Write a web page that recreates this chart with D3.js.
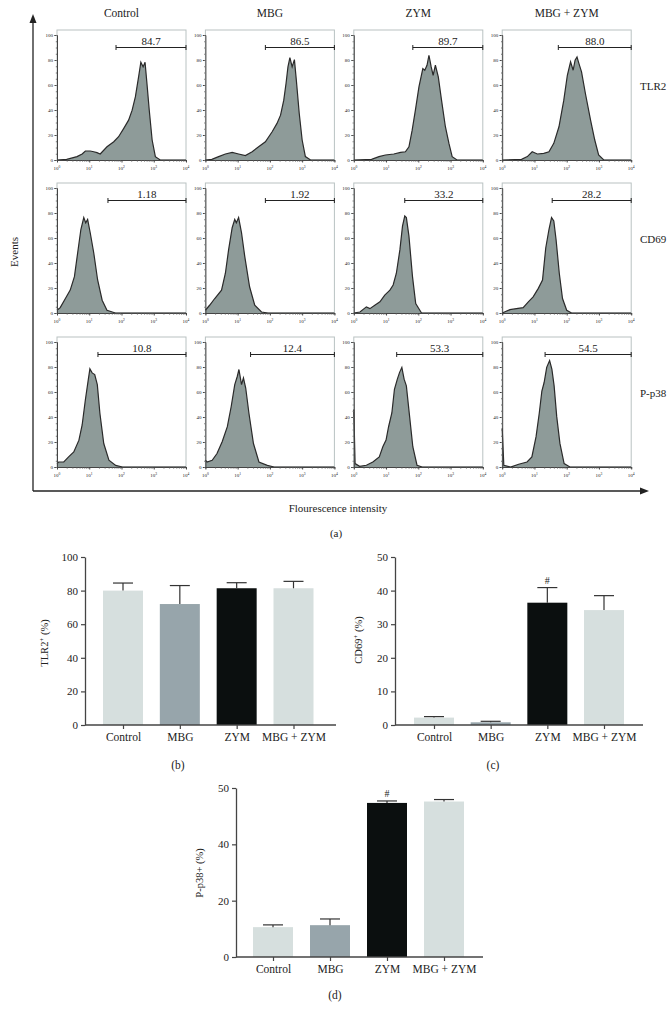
<!DOCTYPE html>
<html><head><meta charset="utf-8">
<script src="https://cdn.jsdelivr.net/npm/d3@7"></script>
<style>body{margin:0;background:#fff} svg{display:block} text{font-family:"Liberation Serif","DejaVu Serif",serif;fill:#222}</style>
</head><body><svg id="c" width="672" height="1021"></svg>
<script>
// ---------- DATA ----------
const groups = ["Control", "MBG", "ZYM", "MBG + ZYM"];
const markers = ["TLR2", "CD69", "P-p38"];
const gateValues = [["84.7","86.5","89.7","88.0"],["1.18","1.92","33.2","28.2"],["10.8","12.4","53.3","54.5"]];
const gateStarts = [[1.83,1.86,1.83,1.74],[1.58,1.86,1.58,1.55],[1.27,1.40,1.33,1.33]]; // log10 intensity
const histYTicks = [0,20,40,60,80,100];
const histXTicks = [0,1,2,3,4]; // exponents

// histograms: [log10 intensity, % of max events]
const tlr2Control = [[0,0],[0.3,0.5],[0.62,2.7],[0.78,4.8],[0.88,7.2],[1.03,7.2],[1.14,6.6],[1.24,5.9],[1.34,4.8],[1.55,10.6],[1.76,14.6],[1.91,18.6],[2.07,25.3],[2.22,31.9],[2.33,39.9],[2.43,50.5],[2.53,66.5],[2.60,78.2],[2.67,74.5],[2.73,78.2],[2.79,61],[2.86,40],[2.95,16],[3.05,2.7],[3.2,0],[4,0]];
const tlr2MBG = [[0,0],[0.2,0.5],[0.41,2.7],[0.62,4.8],[0.83,6.1],[1.03,4.8],[1.24,3.5],[1.45,6.6],[1.65,10.6],[1.86,14.6],[2.07,22.6],[2.22,29.3],[2.33,35.9],[2.43,47.9],[2.50,61.2],[2.56,74.5],[2.62,81.9],[2.69,74.5],[2.76,80.3],[2.82,63.8],[2.91,37.2],[3.0,16],[3.10,2.7],[3.26,0],[4,0]];
const tlr2ZYM = [[0,0],[0.55,0.5],[0.78,2.7],[0.98,4.0],[1.24,4.8],[1.45,6.1],[1.60,6.6],[1.71,10.6],[1.81,23.9],[1.91,39.9],[2.02,58.5],[2.14,73.1],[2.20,71.8],[2.27,75.8],[2.33,83.8],[2.40,74.5],[2.46,67.8],[2.53,75.8],[2.62,66.5],[2.72,47.9],[2.84,26.6],[2.95,13.3],[3.05,2.7],[3.2,0],[4,0]];
const tlr2Both = [[0,0],[0.6,0.5],[0.78,2.7],[0.93,6.6],[1.09,4.8],[1.29,5.3],[1.45,6.6],[1.60,13.3],[1.76,26.6],[1.91,47.9],[2.02,67.8],[2.12,78.5],[2.20,71.8],[2.26,79.8],[2.32,82.4],[2.38,77.1],[2.46,70.5],[2.58,53.2],[2.74,31.9],[2.87,16],[2.99,4],[3.15,0],[4,0]];
const cd69Control = [[0,2.2],[0.10,4.3],[0.26,11.6],[0.41,18.3],[0.54,29.1],[0.64,48],[0.74,66.8],[0.83,76.3],[0.89,72.2],[0.95,74.9],[1.03,64.2],[1.14,48],[1.26,26.4],[1.40,10.2],[1.55,2.2],[1.81,0],[4,0]];
const cd69MBG = [[0,2.2],[0.13,6.2],[0.29,11.6],[0.50,18.3],[0.62,31.8],[0.72,50.7],[0.83,68.2],[0.91,74.9],[0.96,72.2],[1.03,76.3],[1.12,64.2],[1.22,45.3],[1.37,21],[1.53,6.2],[1.74,0.8],[1.94,0],[4,0]];
const cd69ZYM = [[0,0],[0.19,0.8],[0.39,4.9],[0.50,3.5],[0.65,6.2],[0.81,8.9],[0.96,14.3],[1.12,18.3],[1.22,22.4],[1.32,31.8],[1.43,50.7],[1.51,69.5],[1.58,77.6],[1.63,76.3],[1.71,61.5],[1.82,29.1],[1.92,7.5],[2.10,0],[4,0]];
const cd69Both = [[0,0],[0.24,2.7],[0.44,3.5],[0.65,4.3],[0.81,8.9],[0.96,12.9],[1.12,19.7],[1.25,26.4],[1.35,52],[1.45,66.8],[1.53,76.3],[1.60,73.6],[1.67,58.8],[1.77,31.8],[1.87,11.6],[2.0,2.2],[2.15,0],[4,0]];
const pp38Control = [[0,2.7],[0.05,4],[0.21,4],[0.36,8.1],[0.52,12.1],[0.68,21.5],[0.78,33.6],[0.88,53.8],[0.97,69.9],[1.02,78.5],[1.09,75.3],[1.17,73.9],[1.25,65.9],[1.33,43],[1.45,18.8],[1.61,5.4],[1.82,1.3],[2.03,0],[4,0]];
const pp38MBG = [[0,5.4],[0.05,4],[0.21,5.4],[0.36,10.8],[0.52,20.2],[0.68,32.3],[0.80,48.4],[0.91,65.9],[0.99,72.6],[1.04,78],[1.12,65.9],[1.18,71.2],[1.25,63.2],[1.35,43],[1.49,18.8],[1.66,4],[1.92,1.3],[2.13,0],[4,0]];
const pp38ZYM = [[0,46],[0.04,2.7],[0.18,0.5],[0.39,1.4],[0.59,4],[0.79,8.1],[0.90,16.2],[1.0,21.6],[1.08,32.4],[1.18,43.2],[1.26,62.2],[1.35,70.3],[1.42,75.7],[1.49,79.7],[1.56,70.3],[1.63,64.9],[1.73,40.5],[1.83,16.2],[1.96,1.4],[2.12,0],[4,0]];
const pp38Both = [[0,31],[0.05,1.4],[0.26,0],[0.51,2.2],[0.77,4],[0.92,8.1],[1.05,24.3],[1.15,43.2],[1.23,60.8],[1.30,67.6],[1.38,79.7],[1.47,85.1],[1.54,78.4],[1.61,64.9],[1.69,40.5],[1.79,18.9],[1.92,2.7],[2.10,0],[4,0]];
const histograms = [[tlr2Control,tlr2MBG,tlr2ZYM,tlr2Both],[cd69Control,cd69MBG,cd69ZYM,cd69Both],[pp38Control,pp38MBG,pp38ZYM,pp38Both]];

// bar charts
const tlr2Mean = [80, 72, 81.4, 81.4];
const tlr2Sem  = [4.5, 11, 3.3, 4.1];
const tlr2Ticks = [0,20,40,60,80,100];
const cd69Mean = [2.2, 0.8, 36.4, 34.2];
const cd69Sem  = [0.3, 0.3, 4.5, 4.3];
const cd69Ticks = [0,10,20,30,40,50];
const cd69Sig = ["","","#",""];
const pp38Mean = [10.6, 11.3, 54.7, 55.2];
const pp38Sem  = [0.8, 2.2, 0.7, 0.7];
const pp38Ticks = [0,20,40,60];
const pp38TickLabels = ["0","20","40","50"];
const pp38Sig = ["","","#",""];
const barColors = ["#d6dfde","#97a5ab","#0b0f0f","#d6dfde"];

// ---------- DRAW ----------
const svg = d3.select("#c");
const ink = "#222";

// big axes with arrows
svg.append("line").attr("x1",33).attr("y1",491).attr("x2",33).attr("y2",20).attr("stroke",ink).attr("stroke-width",1.3);
svg.append("line").attr("x1",33).attr("y1",491).attr("x2",642).attr("y2",491).attr("stroke",ink).attr("stroke-width",1.3);
svg.append("path").attr("d","M33,14 L29.5,23 L36.5,23 Z").attr("fill",ink);
svg.append("path").attr("d","M649,491 L640,487.5 L640,494.5 Z").attr("fill",ink);
svg.append("text").attr("transform","translate(18,252) rotate(-90)").attr("text-anchor","middle").attr("font-size",11).text("Events");
svg.append("text").attr("x",338).attr("y",512).attr("text-anchor","middle").attr("font-size",11).text("Flourescence intensity");
svg.append("text").attr("x",336).attr("y",537).attr("text-anchor","middle").attr("font-size",11).text("(a)");

const panelW = 129, panelH = 125;
const panelLeft = i => 57 + i*148.4;
const rowBase = [160, 313, 467];

groups.forEach((g,i)=>{
  svg.append("text").attr("x",panelLeft(i)+panelW/2).attr("y",17).attr("text-anchor","middle").attr("font-size",11.5).text(g);
});
markers.forEach((m,r)=>{
  svg.append("text").attr("x",640).attr("y",rowBase[r]-panelH+55).attr("font-size",11).text(m);
});

histograms.forEach((row,r)=>{
  row.forEach((data,c)=>{
    const x0 = panelLeft(c), y0 = rowBase[r];
    const x = d3.scaleLog().domain([1,1e4]).range([x0, x0+panelW]);
    const y = d3.scaleLinear().domain([0,100]).range([y0, y0-panelH]);
    const gp = svg.append("g");
    gp.append("rect").attr("x",x0).attr("y",y0-panelH-5).attr("width",panelW).attr("height",panelH+5)
      .attr("fill","none").attr("stroke","#b9c2c2").attr("stroke-width",1);
    const area = d3.area().x(d=>x(10**d[0])).y0(y0).y1(d=>y(d[1]));
    const line = d3.line().x(d=>x(10**d[0])).y(d=>y(d[1]));
    gp.append("path").datum(data).attr("d",area).attr("fill","#8e9b99");
    gp.append("path").datum(data).attr("d",line).attr("fill","none").attr("stroke","#2a2a2a").attr("stroke-width",1.2);
    const ya = d3.axisLeft(y).tickValues(histYTicks).tickSize(2.5).tickPadding(1.5);
    const yg = gp.append("g").attr("transform",`translate(${x0},0)`).call(ya);
    yg.selectAll("text").attr("font-size",5).attr("fill","#333").style("font-family","Liberation Serif,serif");
    yg.select(".domain").attr("stroke","#444");
    yg.selectAll(".tick line").attr("stroke","#444");
    const ym = d3.axisLeft(y).tickValues(d3.range(0,101,5)).tickSize(1.2).tickFormat("");
    const ymg = gp.append("g").attr("transform",`translate(${x0},0)`).call(ym);
    ymg.select(".domain").remove(); ymg.selectAll("line").attr("stroke","#777");
    const xm = d3.axisBottom(x).tickValues(d3.range(0,4).flatMap(e=>d3.range(2,10).map(k=>k*10**e))).tickSize(1.5).tickFormat("");
    const xmg = gp.append("g").attr("transform",`translate(0,${y0})`).call(xm);
    xmg.select(".domain").attr("stroke","#444"); xmg.selectAll("line").attr("stroke","#555");
    const xa = d3.axisBottom(x).tickValues(histXTicks.map(e=>10**e)).tickSize(2.5).tickFormat("");
    const xg = gp.append("g").attr("transform",`translate(0,${y0})`).call(xa);
    xg.select(".domain").remove(); xg.selectAll("line").attr("stroke","#444");
    histXTicks.forEach(e=>{
      const t = gp.append("text").attr("x",x(10**e)).attr("y",y0+10).attr("text-anchor","middle").attr("font-size",5).attr("fill","#333");
      t.append("tspan").text("10");
      t.append("tspan").attr("dy",-2).attr("font-size",3.6).text(e);
    });
    const gy = y(90);
    const gx1 = x(10**gateStarts[r][c]), gx2 = x(1e4);
    gp.append("line").attr("x1",gx1).attr("x2",gx2).attr("y1",gy).attr("y2",gy).attr("stroke","#222").attr("stroke-width",1.1);
    [gx1,gx2].forEach(v=>gp.append("line").attr("x1",v).attr("x2",v).attr("y1",gy-2.5).attr("y2",gy+2.5).attr("stroke","#222").attr("stroke-width",1));
    gp.append("text").attr("x",(gx1+gx2)/2).attr("y",gy-2.5).attr("text-anchor","middle").attr("font-size",11).text(gateValues[r][c]);
  });
});

// ---------- BAR CHARTS ----------
function barChart(cfg){
  const g = svg.append("g");
  const y = d3.scaleLinear().domain([0,cfg.max]).range([cfg.y0, cfg.yTop]);
  const x = d3.scalePoint().domain(groups).range(cfg.centers);
  const bw = 40;
  g.selectAll("rect.bar").data(cfg.mean).join("rect").attr("class","bar")
    .attr("x",(d,i)=>x(groups[i])-bw/2).attr("width",bw)
    .attr("y",d=>y(d)).attr("height",d=>cfg.y0-y(d)).attr("fill",(d,i)=>barColors[i]);
  cfg.mean.forEach((m,i)=>{
    const cx = x(groups[i]), top = y(m+cfg.sem[i]);
    g.append("line").attr("x1",cx).attr("x2",cx).attr("y1",y(m)).attr("y2",top).attr("stroke","#333").attr("stroke-width",1.2);
    g.append("line").attr("x1",cx-10).attr("x2",cx+10).attr("y1",top).attr("y2",top).attr("stroke","#333").attr("stroke-width",1.2);
    if(cfg.sig && cfg.sig[i]) g.append("text").attr("x",cx).attr("y",top-4).attr("text-anchor","middle").attr("font-size",10).text(cfg.sig[i]);
  });
  const ya = d3.axisLeft(y).tickValues(cfg.ticks).tickSize(4).tickPadding(3).tickSizeOuter(0);
  if(cfg.labels) ya.tickFormat((d,i)=>cfg.labels[i]);
  const yg = g.append("g").attr("transform",`translate(${cfg.ax},0)`).call(ya);
  yg.selectAll("text").attr("font-size",11).style("font-family","Liberation Serif,serif").attr("fill","#222");
  yg.selectAll("line").attr("stroke","#444").attr("stroke-width",1.2);
  yg.select(".domain").attr("stroke","#444").attr("stroke-width",1.3);
  g.append("line").attr("x1",cfg.ax).attr("x2",cfg.xEnd).attr("y1",cfg.y0).attr("y2",cfg.y0).attr("stroke","#444").attr("stroke-width",1.3);
  const xa = d3.axisBottom(x).tickSize(4).tickPadding(4).tickSizeOuter(0);
  const xg = g.append("g").attr("transform",`translate(0,${cfg.y0})`).call(xa);
  xg.select(".domain").remove();
  xg.selectAll("line").attr("stroke","#444").attr("stroke-width",1.2);
  xg.selectAll("text").attr("font-size",11.5).style("font-family","Liberation Serif,serif").attr("fill","#222");
  const t = g.append("text").attr("transform",`translate(${cfg.tx},${cfg.ty}) rotate(-90)`).attr("text-anchor","middle").attr("font-size",10.5);
  t.append("tspan").text(cfg.title[0]);
  if(cfg.title[1]) t.append("tspan").attr("dy",-4).attr("font-size",7).text(cfg.title[1]);
  t.append("tspan").attr("dy",cfg.title[1]?4:0).text(cfg.title[2]);
  g.append("text").attr("x",cfg.lx).attr("y",cfg.ly).attr("text-anchor","middle").attr("font-size",11.5).text(cfg.letter);
}

barChart({mean:tlr2Mean, sem:tlr2Sem, ticks:tlr2Ticks, max:100, y0:725, yTop:557, ax:85, xEnd:336, centers:[123,293.5],
  title:["TLR2","+"," (%)"], tx:48, ty:643, letter:"(b)", lx:178, ly:769});
barChart({mean:cd69Mean, sem:cd69Sem, ticks:cd69Ticks, max:50, y0:725, yTop:557, ax:395, xEnd:643, centers:[434,604], sig:cd69Sig,
  title:["CD69","+"," (%)"], tx:362, ty:640, letter:"(c)", lx:493, ly:769});
barChart({mean:pp38Mean, sem:pp38Sem, ticks:pp38Ticks, labels:pp38TickLabels, max:60, y0:957, yTop:788, ax:236, xEnd:483, centers:[273,444], sig:pp38Sig,
  title:["P-p38+ (%)"], tx:203, ty:873, letter:"(d)", lx:335, ly:999});
</script></body></html>
